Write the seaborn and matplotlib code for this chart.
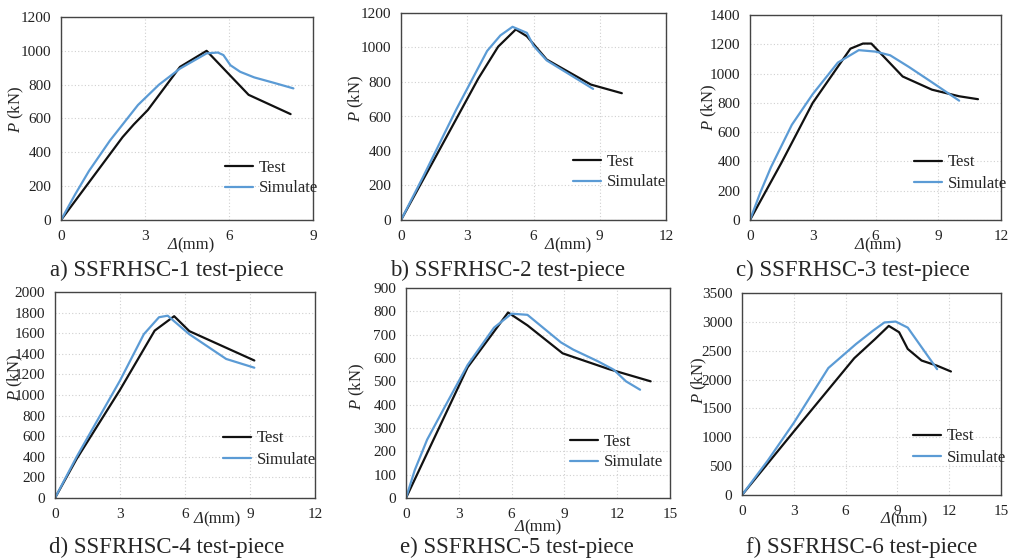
import numpy as np
import pandas as pd
import matplotlib
matplotlib.use("Agg")
import matplotlib.pyplot as plt
import seaborn as sns

# ---------------- data ----------------
a_test_x = [0, 2.2, 2.6, 3.1, 4.25, 5.2, 6.7, 8.2]
a_test_y = [0, 490, 565, 650, 905, 1000, 740, 626]
a_sim_x = [0, 0.5, 1.0, 1.75, 2.75, 3.5, 4.25, 5.2, 5.6, 5.8, 6.05, 6.4, 6.9, 7.6, 8.3]
a_sim_y = [0, 150, 290, 470, 680, 800, 895, 985, 990, 975, 915, 876, 843, 811, 778]

b_test_x = [0, 1.5, 3.5, 4.4, 5.2, 5.7, 6.6, 8.6, 10.0]
b_test_y = [0, 350, 820, 1005, 1105, 1065, 930, 785, 735]
b_sim_x = [0, 1.0, 2.5, 3.9, 4.5, 5.05, 5.7, 6.0, 6.6, 8.7]
b_sim_y = [0, 250, 640, 980, 1070, 1120, 1085, 1010, 925, 760]

c_test_x = [0, 1.5, 3.0, 4.8, 5.4, 5.8, 7.3, 8.7, 10.0, 10.9]
c_test_y = [0, 390, 800, 1170, 1205, 1205, 980, 890, 845, 825]
c_sim_x = [0, 0.5, 1.0, 2.0, 3.0, 4.2, 5.2, 6.0, 6.7, 7.6, 8.6, 10.0]
c_sim_y = [0, 190, 360, 650, 860, 1075, 1160, 1150, 1125, 1045, 950, 815]

d_test_x = [0, 1.0, 3.0, 4.6, 5.5, 6.2, 9.2]
d_test_y = [0, 380, 1050, 1625, 1765, 1620, 1335]
d_sim_x = [0, 1.0, 3.0, 4.1, 4.8, 5.2, 6.2, 7.9, 9.2]
d_sim_y = [0, 400, 1140, 1590, 1755, 1770, 1590, 1350, 1265]

e_test_x = [0, 3.5, 5.8, 6.9, 8.9, 11.5, 13.9]
e_test_y = [0, 560, 795, 740, 620, 553, 500]
e_sim_x = [0, 0.5, 1.2, 2.2, 3.5, 5.0, 6.0, 6.9, 8.8, 9.5, 10.9, 11.8, 12.5, 13.3]
e_sim_y = [0, 120, 250, 390, 570, 730, 790, 785, 667, 636, 586, 550, 500, 464]

f_test_x = [0, 3.0, 6.5, 7.7, 8.5, 9.1, 9.6, 10.4, 11.3, 12.1]
f_test_y = [0, 1100, 2370, 2700, 2930, 2820, 2530, 2330, 2240, 2140]
f_sim_x = [0, 1.5, 3.0, 5.0, 6.6, 7.6, 8.25, 8.9, 9.6, 11.3]
f_sim_y = [0, 600, 1250, 2200, 2615, 2850, 2990, 3005, 2900, 2180]

captions = ["a) SSFRHSC-1 test-piece", "b) SSFRHSC-2 test-piece", "c) SSFRHSC-3 test-piece",
            "d) SSFRHSC-4 test-piece", "e) SSFRHSC-5 test-piece", "f) SSFRHSC-6 test-piece"]
series_names = ["Test", "Simulate"]
x_max = [9, 12, 12, 12, 15, 15]
y_max = [1200, 1200, 1400, 2000, 900, 3500]
y_step = [200, 200, 200, 200, 100, 500]

# ---------------- style ----------------
sns.set_theme(style="white")
plt.rcParams["font.family"] = ["Liberation Serif", "DejaVu Serif"]
plt.rcParams["mathtext.fontset"] = "custom"
plt.rcParams["mathtext.rm"] = "Liberation Serif"
plt.rcParams["mathtext.it"] = "Liberation Serif:italic"

W, H = 1016, 560
fig = plt.figure(figsize=(W / 100, H / 100), dpi=100)
fig.patch.set_facecolor("white")

# pixel boxes: left, right, top, bottom
boxes = [(61, 313, 17, 220), (401, 666, 13, 220), (750, 1001, 15, 220),
         (55, 315, 292, 498), (406, 670, 288, 498), (742, 1001, 293, 495)]
xlabel_pos = [(189, 245), (566, 245), (876, 245), (215, 519), (536, 527), (902, 519)]
ylabel_pos = [(16, 109), (356, 98), (709, 107), (15, 377), (357, 386), (699, 380)]
caption_pos = [(167, 270), (508, 270), (853, 270), (167, 547), (517, 547), (862, 547)]
legend_pos = [(225, 178), (573, 172), (914, 173), (223, 449), (570, 452), (913, 447)]

data = [(a_test_x, a_test_y, a_sim_x, a_sim_y), (b_test_x, b_test_y, b_sim_x, b_sim_y),
        (c_test_x, c_test_y, c_sim_x, c_sim_y), (d_test_x, d_test_y, d_sim_x, d_sim_y),
        (e_test_x, e_test_y, e_sim_x, e_sim_y), (f_test_x, f_test_y, f_sim_x, f_sim_y)]

palette = {"Test": "#111111", "Simulate": "#5B9BD5"}

for i in range(6):
    l, r, t, b = boxes[i]
    ax = fig.add_axes([l / W, 1 - b / H, (r - l) / W, (b - t) / H])
    tx, ty, sx, sy = data[i]
    df = pd.concat([
        pd.DataFrame({"d": tx, "P": ty, "series": series_names[0]}),
        pd.DataFrame({"d": sx, "P": sy, "series": series_names[1]}),
    ], ignore_index=True)
    sns.lineplot(data=df, x="d", y="P", hue="series", palette=palette, sort=False,
                 estimator=None, ax=ax, linewidth=1.6)
    ax.set_xlim(0, x_max[i])
    ax.set_ylim(0, y_max[i])
    ax.set_xticks(np.arange(0, x_max[i] + 0.1, 3))
    ax.set_yticks(np.arange(0, y_max[i] + 1, y_step[i]))
    ax.grid(True, color="#d0d0d0", linestyle=(0, (1, 2)), linewidth=0.8)
    ax.tick_params(length=0, labelsize=11, pad=7, colors="#222222")
    for sp in ax.spines.values():
        sp.set_color("#444444")
        sp.set_linewidth(1.0)
    ax.set_xlabel("")
    ax.set_ylabel("")
    # x axis label: italic Delta followed by upright "(mm)"
    xl, yl = xlabel_pos[i]
    jx = (xl - 12) / W
    fig.text(jx, 1 - yl / H, "Δ", ha="right", va="center", fontsize=12, fontstyle="italic")
    fig.text(jx, 1 - yl / H, "(mm)", ha="left", va="center", fontsize=12)
    # y axis label
    xl, yl = ylabel_pos[i]
    fig.text(xl / W, 1 - yl / H, r"$P$ (kN)", ha="center", va="center", fontsize=12, rotation=90)
    # caption
    cx, cy = caption_pos[i]
    fig.text(cx / W, 1 - cy / H, captions[i], ha="center", va="center", fontsize=16.5)
    # legend
    lx, ly = legend_pos[i]
    ax.legend(loc="center left", bbox_to_anchor=(lx / W, 1 - ly / H), bbox_transform=fig.transFigure,
              frameon=False, fontsize=12, handlelength=1.7, handletextpad=0.35, labelspacing=0.3,
              borderpad=0, borderaxespad=0)

fig.savefig("out.png", dpi=100, facecolor="white")
